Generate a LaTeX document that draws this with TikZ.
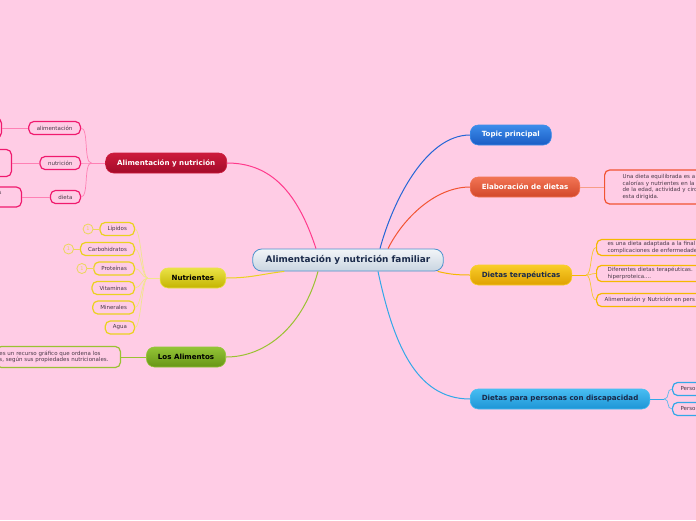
\documentclass[tikz,border=0pt]{standalone}
\usepackage{fontspec}
\setmainfont{DejaVu Sans}
\usetikzlibrary{positioning, calc}

\definecolor{bgpink}{HTML}{FFCCE5}
\definecolor{leaftext}{HTML}{4A3A48}
\definecolor{centreline}{HTML}{4A90CC}
\definecolor{centretop}{HTML}{F2F5F8}
\definecolor{centrebot}{HTML}{C9D5E1}
\definecolor{navy}{HTML}{1A2A4A}
\definecolor{bluedark}{HTML}{1A5CC4}
\definecolor{bluelite}{HTML}{3C8CEA}
\definecolor{orangedark}{HTML}{D2472A}
\definecolor{orangelite}{HTML}{F27454}
\definecolor{golddark}{HTML}{DFA000}
\definecolor{goldlite}{HTML}{F9CD2A}
\definecolor{cyandark}{HTML}{1D95D6}
\definecolor{cyanlite}{HTML}{48BDF2}
\definecolor{crimdark}{HTML}{A30B29}
\definecolor{crimlite}{HTML}{CC1A3C}
\definecolor{lemondark}{HTML}{C4B400}
\definecolor{lemonlite}{HTML}{EAE246}
\definecolor{greendark}{HTML}{679516}
\definecolor{greenlite}{HTML}{93C436}
\definecolor{pinkline}{HTML}{FF3A8C}
\definecolor{pinkleaf}{HTML}{F01A6E}
\definecolor{pinktwig}{HTML}{FF80B4}
\definecolor{yellowline}{HTML}{EAD21E}
\definecolor{yellowtwig}{HTML}{F2E48C}
\definecolor{tagline}{HTML}{ECD65A}
\definecolor{greenline}{HTML}{9AC232}
\definecolor{blueline}{HTML}{2466D6}
\definecolor{orangeline}{HTML}{F25432}
\definecolor{goldline}{HTML}{F5B800}
\definecolor{cyanline}{HTML}{32A8E8}

\begin{document}
\begin{tikzpicture}[
    x=1pt, y=-1pt,
    centre/.style={draw=centreline, line width=0.8pt, rounded corners=9pt,
                   top color=centretop, bottom color=centrebot,
                   minimum height=22pt, inner xsep=13pt, text=navy,
                   font=\fontsize{8.9}{10}\selectfont\bfseries},
    topic/.style={rounded corners=8pt, line width=0.6pt, minimum height=20pt,
                  inner xsep=11.5pt, font=\fontsize{7.1}{8}\selectfont\bfseries},
    leaf/.style={draw, line width=1.2pt, rounded corners=5pt, fill=bgpink,
                 minimum height=13pt, inner xsep=8pt, inner ysep=2pt,
                 text=leaftext, font=\fontsize{5.5}{6.6}\selectfont},
    note/.style={leaf, align=left, text width=#1},
    tag/.style={circle, draw=tagline, line width=0.8pt, minimum size=10pt,
                inner sep=0pt, text=tagline, font=\fontsize{5}{6}\selectfont},
    branch/.style={line width=1pt},
    twig/.style={line width=0.7pt}
]
\fill[bgpink] (0,0) rectangle (696,520);
\useasboundingbox (0,0) rectangle (696,520);

% Centre
\node[centre] (central) at (348,260) {Alimentación y nutrición familiar};

% Right-hand topics
\node[topic, anchor=west, top color=bluelite, bottom color=bluedark, draw=bluelite,
      text=white] (topic) at (470,135) {Topic principal};
\node[topic, anchor=west, top color=orangelite, bottom color=orangedark, draw=orangelite,
      text=white] (elab) at (470,187) {Elaboración de dietas};
\node[topic, anchor=west, top color=goldlite, bottom color=golddark, draw=goldlite,
      text=navy] (terap) at (470,275) {Dietas terapéuticas};
\node[topic, anchor=west, top color=cyanlite, bottom color=cyandark, draw=cyanlite,
      text=navy] (disc) at (470,399) {Dietas para personas con discapacidad};

% Left-hand topics
\node[topic, anchor=east, top color=crimlite, bottom color=crimdark, draw=crimlite,
      text=white] (alnut) at (227,163) {Alimentación y nutrición};
\node[topic, anchor=east, top color=lemonlite, bottom color=lemondark, draw=lemonlite,
      text=black] (nutr) at (226,278) {Nutrientes};
\node[topic, anchor=east, top color=greenlite, bottom color=greendark, draw=greenlite,
      text=black] (losalim) at (226,357) {Los Alimentos};

% Main branches
\draw[branch, blueline] ([xshift=32pt]central.north) .. controls +(12,-45) and +(-45,0) .. (topic.west);
\draw[branch, orangeline] ([xshift=40pt]central.north) .. controls +(15,-30) and +(-35,0) .. (elab.west);
\draw[branch, goldline] ([xshift=-6pt]central.south east) .. controls +(12,3) and +(-12,0) .. (terap.west);
\draw[branch, cyanline] ([xshift=30pt]central.south) .. controls +(15,70) and +(-55,0) .. (disc.west);
\draw[branch, pinkline] ([xshift=-32pt]central.north) .. controls +(-18,-55) and +(45,0) .. (alnut.east);
\draw[branch, yellowline] ([xshift=32pt]central.south west) .. controls +(-25,3) and +(25,0) .. (nutr.east);
\draw[branch, greenline] ([xshift=-30pt]central.south) .. controls +(-15,55) and +(40,0) .. (losalim.east);

% Elaboración de dietas
\node[note=80pt, draw=orangeline, anchor=west, inner xsep=18pt, minimum height=34pt]
    (elabnote) at (604,187)
    {Una dieta equilibrada es a\\calorías y nutrientes en la\\de la edad, actividad y circ\\esta dirigida.};
\draw[twig, orangelite!70] (elab.east) -- (elabnote.west);

% Dietas terapéuticas
\coordinate (terapj) at ([xshift=14pt]terap.east);
\draw[twig, goldline] (terap.east) -- (terapj);
\node[note=110pt, draw=goldline, anchor=west, inner xsep=11pt] (terapa) at (596,247.5)
    {es una dieta adaptada a la final\\complicaciones de enfermedade};
\node[note=110pt, draw=goldline, anchor=west, inner xsep=11pt] (terapb) at (596,273.5)
    {Diferentes dietas terapéuticas. \\hiperproteica....};
\node[note=110pt, draw=goldline, anchor=west, inner xsep=8pt] (terapc) at (596,300)
    {Alimentación y Nutrición en pers};
\foreach \leafname in {terapa, terapb, terapc}
  \draw[twig, goldline!80] (terapj) .. controls +(6,0) and +(-6,0) .. (\leafname.west);

% Dietas para personas con discapacidad
\coordinate (discj) at ([xshift=14pt]disc.east);
\draw[twig, cyanline] (disc.east) -- (discj);
\node[note=50pt, draw=cyanline, anchor=west, inner xsep=8pt] (disca) at (672,389) {Perso};
\node[note=50pt, draw=cyanline, anchor=west, inner xsep=8pt] (discb) at (672,409) {Perso};
\foreach \leafname in {disca, discb}
  \draw[twig, cyanline!80] (discj) .. controls +(6,0) and +(-6,0) .. (\leafname.west);

% Alimentación y nutrición
\coordinate (alnutj) at ([xshift=-14pt]alnut.west);
\draw[twig, pinktwig] (alnut.west) -- (alnutj);
\node[leaf, draw=pinkleaf, anchor=east] (alim) at (81,128) {alimentación};
\node[leaf, draw=pinkleaf, anchor=east] (nutri) at (81,163) {nutrición};
\node[leaf, draw=pinkleaf, anchor=east] (dieta) at (81,197) {dieta};
\foreach \leafname in {alim, nutri, dieta}
  \draw[twig, pinktwig] (alnutj) .. controls +(-8,0) and +(8,0) .. (\leafname.east);
\node[leaf, draw=pinkleaf, anchor=east, minimum width=60pt, minimum height=20pt] (alimx) at (2,128) {};
\node[leaf, draw=pinkleaf, anchor=east, minimum width=60pt, minimum height=27pt] (nutrix) at (12,163) {};
\node[note=60pt, draw=pinkleaf, anchor=east, minimum height=20pt, align=right] (dietax) at (22,197)
    {s\mbox{\hspace{12pt}}\\[1pt]\mbox{}};
\draw[twig, pinktwig] (alim.west) -- (alimx.east);
\draw[twig, pinktwig] (nutri.west) -- (nutrix.east);
\draw[twig, pinktwig] (dieta.west) -- (dietax.east);

% Nutrientes
\coordinate (nutrj) at ([xshift=-12pt]nutr.west);
\draw[twig, yellowtwig] (nutr.west) -- (nutrj);
\node[leaf, draw=yellowline, anchor=east, inner xsep=7.5pt] (lipid) at (135,229) {Lípidos};
\node[leaf, draw=yellowline, anchor=east, inner xsep=7.5pt] (carbo) at (135,249) {Carbohidratos};
\node[leaf, draw=yellowline, anchor=east, inner xsep=7.5pt] (prote) at (135,268.5) {Proteínas};
\node[leaf, draw=yellowline, anchor=east, inner xsep=7.5pt] (vitam) at (135,288) {Vitaminas};
\node[leaf, draw=yellowline, anchor=east, inner xsep=7.5pt] (miner) at (135,307.5) {Minerales};
\node[leaf, draw=yellowline, anchor=east, inner xsep=7.5pt] (agua) at (135,327.5) {Agua};
\foreach \leafname in {lipid, carbo, prote, vitam, miner, agua}
  \draw[twig, yellowtwig] (nutrj) .. controls +(-6,0) and +(6,0) .. (\leafname.east);
\foreach \leafname in {lipid, carbo, prote} {
  \node[tag, left=6pt of \leafname] (\leafname tag) {1};
  \draw[twig, tagline] (\leafname tag) -- (\leafname);
}

% Los Alimentos
\node[note=118pt, draw=greenline, anchor=east, inner xsep=3pt, minimum height=21pt] (alimnote) at (121,357)
    {es un recurso gráfico que ordena los\\s, según sus propiedades nutricionales.};
\draw[twig, greenline] (losalim.west) -- (alimnote.east);
\end{tikzpicture}
\end{document}
